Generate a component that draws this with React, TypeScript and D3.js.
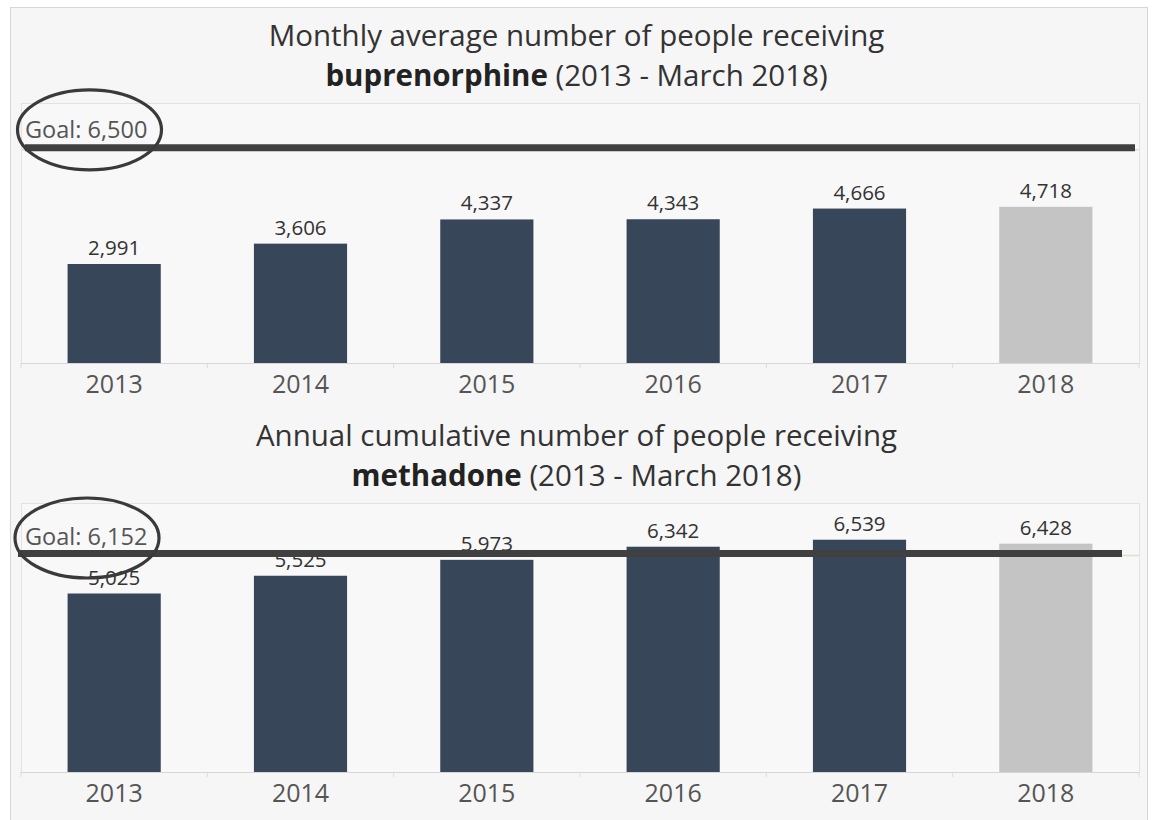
import React from "react";
import * as d3 from "d3";

const years = ["2013", "2014", "2015", "2016", "2017", "2018"];
const buprenorphine = [2991, 3606, 4337, 4343, 4666, 4718];
const methadone = [5025, 5525, 5973, 6342, 6539, 6428];
const bupGoal = 6500;
const methGoal = 6152;
const partialYear = "2018";

const W = 1161;
const H = 820;
const FONT = "'Open Sans', 'Noto Sans', sans-serif";
const DARK = "#374659";
const GRAY = "#c4c4c4";

type PanelProps = {
  values: number[];
  goal: number;
  top: number;
  bottom: number;
  yMax: number;
  title1: string;
  boldWord: string;
  rest: string;
  titleY: number;
  goalX1: number;
  goalX2: number;
  ellipseDx: number;
  ellipseDy: number;
  goalTextDy: number;
};

function Panel(p: PanelProps) {
  const left = 21;
  const right = 1139;
  const x = d3.scaleBand<string>().domain(years).range([left, right]).paddingInner(0.5).paddingOuter(0.25);
  const y = d3.scaleLinear().domain([0, p.yMax]).range([p.bottom, p.top]);
  const gy = y(p.goal);
  const fmt = d3.format(",");
  const step = (right - left) / years.length;
  const ticks = d3.range(years.length + 1).map((i) => left + i * step);
  return (
    <g>
      <text x={W / 2 - 4} y={p.titleY} textAnchor="middle" fontFamily={FONT} fontSize={29.5} fill="#333">
        {p.title1}
      </text>
      <text x={W / 2 - 4} y={p.titleY + 40} textAnchor="middle" fontFamily={FONT} fontSize={29.5} fill="#222">
        <tspan fontWeight="bold">{p.boldWord}</tspan>
        <tspan fill="#333">{p.rest}</tspan>
      </text>
      <rect x={left + 0.5} y={p.top + 0.5} width={right - left} height={p.bottom - p.top} fill="#f8f8f8" stroke="#e2e2e2" />
      {ticks.map((t, i) => (
        <line key={i} x1={t} x2={t} y1={p.bottom} y2={p.bottom + 5} stroke="#ddd" />
      ))}
      <line x1={left} x2={right} y1={p.bottom + 0.5} y2={p.bottom + 0.5} stroke="#d6d6d6" />
      {years.map((yr, i) => (
        <rect
          key={yr}
          x={x(yr)}
          y={y(p.values[i])}
          width={x.bandwidth()}
          height={p.bottom - y(p.values[i])}
          fill={yr === partialYear ? GRAY : DARK}
        />
      ))}
      {years.map((yr, i) => (
        <text
          key={yr}
          x={(x(yr) as number) + x.bandwidth() / 2}
          y={y(p.values[i]) - 9}
          textAnchor="middle"
          fontFamily={FONT}
          fontSize={20.5}
          fill="#333"
        >
          {fmt(p.values[i])}
        </text>
      ))}
      {years.map((yr) => (
        <text
          key={yr}
          x={(x(yr) as number) + x.bandwidth() / 2}
          y={p.bottom + 30}
          textAnchor="middle"
          fontFamily={FONT}
          fontSize={25}
          fill="#555"
        >
          {yr}
        </text>
      ))}
      <line x1={left} x2={right} y1={gy + 2} y2={gy + 2} stroke="#dde0c6" strokeWidth={1.5} />
      <line x1={p.goalX1} x2={p.goalX2} y1={gy} y2={gy} stroke="#404040" strokeWidth={7} />
      <text x={25} y={gy + p.goalTextDy} fontFamily={FONT} fontSize={23.5} fill="#555">
        {"Goal: " + fmt(p.goal)}
      </text>
      <ellipse cx={p.ellipseDx} cy={gy + p.ellipseDy} rx={72} ry={40} fill="none" stroke="#3a3a3a" strokeWidth={3.2} />
    </g>
  );
}

export default function App() {
  return (
    <svg width={W} height={H} style={{ position: "absolute", left: 0, top: 0 }}>
      <rect x={0} y={0} width={W} height={H} fill="#ffffff" />
      <rect x={10.5} y={7.5} width={1137} height={830} fill="#f6f6f6" stroke="#d6d6d6" />
      <Panel
        values={buprenorphine}
        goal={bupGoal}
        top={103}
        bottom={363}
        yMax={7855}
        title1="Monthly average number of people receiving"
        boldWord="buprenorphine"
        rest=" (2013 - March 2018)"
        titleY={46}
        goalX1={25}
        goalX2={1135}
        ellipseDx={89.5}
        ellipseDy={-18}
        goalTextDy={-10}
      />
      <Panel
        values={methadone}
        goal={methGoal}
        top={503}
        bottom={772}
        yMax={7573}
        title1="Annual cumulative number of people receiving"
        boldWord="methadone"
        rest=" (2013 - March 2018)"
        titleY={446}
        goalX1={18}
        goalX2={1122}
        ellipseDx={87}
        ellipseDy={-15.5}
        goalTextDy={-8.5}
      />
    </svg>
  );
}
